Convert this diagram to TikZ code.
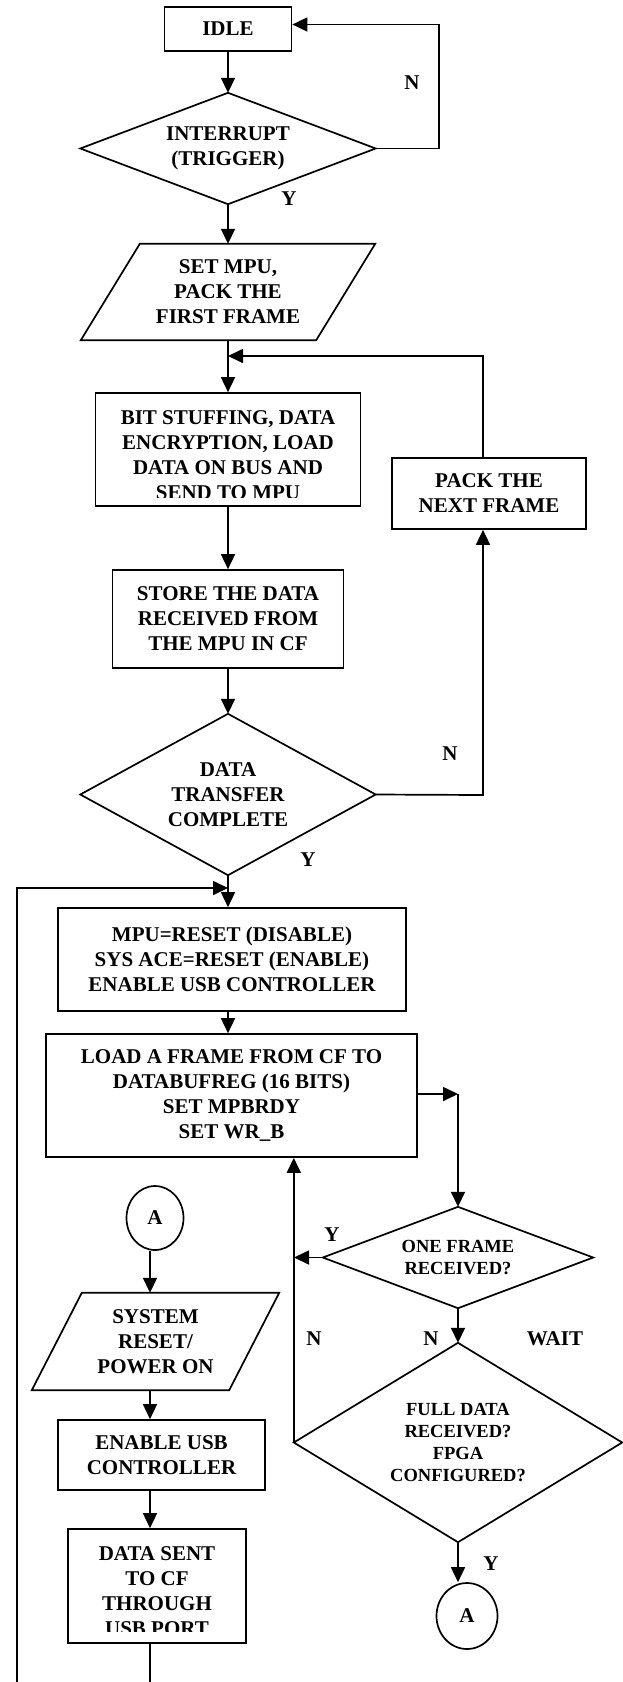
\documentclass[tikz,border=0pt]{standalone}
\usepackage{fontspec}
\setmainfont{Liberation Serif}
\usetikzlibrary{arrows.meta,shapes.geometric}
\begin{document}
\begin{tikzpicture}[x=1pt,y=-1pt,
  every node/.style={font=\bfseries\fontsize{21}{25}\selectfont, align=center, inner sep=0pt},
  ln/.style={line width=1.7pt, line join=miter},
  arr/.style={ln, -{Triangle[length=15pt,width=14pt]}},
  box/.style={draw, line width=1.7pt, rectangle},
  frame/.style={rectangle, draw=none},
  small/.style={font=\bfseries\fontsize{18.5}{21.7}\selectfont},
  conn/.style={draw, ellipse, line width=1.7pt}
]
\useasboundingbox (0,0) rectangle (622,1682);

% ---------- main column ----------
\node[box, minimum width=127pt, minimum height=44pt] (idle) at (228,29) {IDLE};

\node[frame, minimum width=295pt, minimum height=111pt] (int) at (228,148.5) {INTERRUPT\\(TRIGGER)};
\draw[ln] (int.north) -- (int.east) -- (int.south) -- (int.west) -- cycle;

\node[frame, minimum width=294pt, minimum height=96pt] (setmpu) at (228,292) {SET MPU,\\PACK THE\\FIRST FRAME};
\draw[ln] ([xshift=59pt]setmpu.north west) -- (setmpu.north east) -- ([xshift=-59pt]setmpu.south east) -- (setmpu.south west) -- cycle;

\node[box, minimum width=265pt, minimum height=113pt] (bit) at (228,449.5) {};
\begin{scope}
\clip (95,393) rectangle (360,497);
\node (bittxt) at (228,455) {BIT STUFFING, DATA\\ENCRYPTION, LOAD\\DATA ON BUS AND\\SEND TO MPU};
\end{scope}

\node[box, minimum width=231pt, minimum height=98pt] (store) at (228,619) {STORE THE DATA\\RECEIVED FROM\\THE MPU IN CF};

\node[frame, minimum width=295pt, minimum height=161pt] (dtc) at (228,794.5) {DATA\\TRANSFER\\COMPLETE};
\draw[ln] (dtc.north) -- (dtc.east) -- (dtc.south) -- (dtc.west) -- cycle;

\node[box, minimum width=194pt, minimum height=71pt] (pack) at (489,493.5) {PACK THE\\NEXT FRAME};

\node[box, minimum width=348pt, minimum height=103pt] (mpu) at (232,959.5) {MPU=RESET (DISABLE)\\SYS ACE=RESET (ENABLE)\\ENABLE USB CONTROLLER};

\node[box, minimum width=371pt, minimum height=123pt] (load) at (231.5,1095.5) {LOAD A FRAME FROM CF TO\\DATABUFREG (16 BITS)\\SET MPBRDY\\SET WR\_B};

% ---------- right column ----------
\node[frame, small, minimum width=270pt, minimum height=101pt] (ofr) at (458,1257.5) {ONE FRAME\\RECEIVED?};
\draw[ln] (ofr.north) -- (ofr.east) -- (ofr.south) -- (ofr.west) -- cycle;

\node[frame, small, minimum width=328pt, minimum height=199pt] (fdr) at (458,1442.5) {FULL DATA\\RECEIVED?\\FPGA\\CONFIGURED?};
\draw[ln] (fdr.north) -- (fdr.east) -- (fdr.south) -- (fdr.west) -- cycle;

\node[conn, minimum width=61pt, minimum height=66pt] (abot) at (467,1616) {A};

% ---------- left column ----------
\node[conn, minimum width=57pt, minimum height=64pt] (atop) at (155,1218) {A};

\node[frame, minimum width=247pt, minimum height=97pt] (sys) at (155.5,1341.5) {SYSTEM\\RESET/\\POWER ON};
\draw[ln] ([xshift=50pt]sys.north west) -- (sys.north east) -- ([xshift=-50pt]sys.south east) -- (sys.south west) -- cycle;

\node[box, minimum width=207pt, minimum height=70pt] (en) at (161.5,1455) {ENABLE USB\\CONTROLLER};

\node[box, minimum width=178pt, minimum height=114pt] (ds) at (157,1586) {};
\begin{scope}
\clip (68,1529) rectangle (246,1631);
\node (dstxt) at (157,1591) {DATA SENT\\TO CF\\THROUGH\\USB PORT};
\end{scope}

% ---------- coordinates ----------
\coordinate (n1) at (439,24.5);
\coordinate (m1) at (228,356);
\coordinate (pt) at (483,356);
\coordinate (pr) at (483,795);
\coordinate (m2) at (228,888);
\coordinate (bl) at (17,1682);
\coordinate (c1) at (458,1094);
\coordinate (vj) at (294,1257.5);
\coordinate (colB) at (150,0);
\coordinate (bb) at (150,1682);

% ---------- connectors ----------
\draw[arr] (idle.south) -- (int.north);
\draw[arr] (int.east) -| (n1) -- (n1 -| idle.east);
\draw[arr] (int.south) -- (setmpu.north);
\draw[arr] (setmpu.south) -- (bit.north);
\draw[arr] (pt |- pack.north) -- (pt) -- (m1);
\draw[arr] (bit.south) -- (store.north);
\draw[arr] (store.south) -- (dtc.north);
\draw[arr] (dtc.east) -- (pr) -- (pr |- pack.south);
\draw[arr] (dtc.south) -- (dtc.south |- mpu.north);
\draw[arr] (bl) |- (m2);
\draw[arr] (mpu.south -| m2) -- (load.north -| m2);
\draw[arr] (load.east |- c1) -- (c1);
\draw[arr] (c1) -- (ofr.north);
\draw[arr] (ofr.west) -- (vj);
\draw[arr] (fdr.west) -- (fdr.west |- load.south);
\draw[arr] (ofr.south) -- (fdr.north);
\draw[arr] (fdr.south) -- (fdr.south |- abot.north);
\draw[arr] (atop.south -| colB) -- (sys.north -| colB);
\draw[arr] (sys.south -| colB) -- (en.north -| colB);
\draw[arr] (en.south -| colB) -- (ds.north -| colB);
\draw[ln] (ds.south -| colB) -- (bb);

% ---------- labels ----------
\node (lN1) at (412,83) {N};
\node (lY1) at (289,199) {Y};
\node (lN2) at (450,754) {N};
\node (lY2) at (308,860) {Y};
\node (lY3) at (332,1235) {Y};
\node (lN3) at (314,1339) {N};
\node (lN4) at (431,1339) {N};
\node (lW) at (555,1339) {WAIT};
\node (lY4) at (491,1564) {Y};
\end{tikzpicture}
\end{document}
